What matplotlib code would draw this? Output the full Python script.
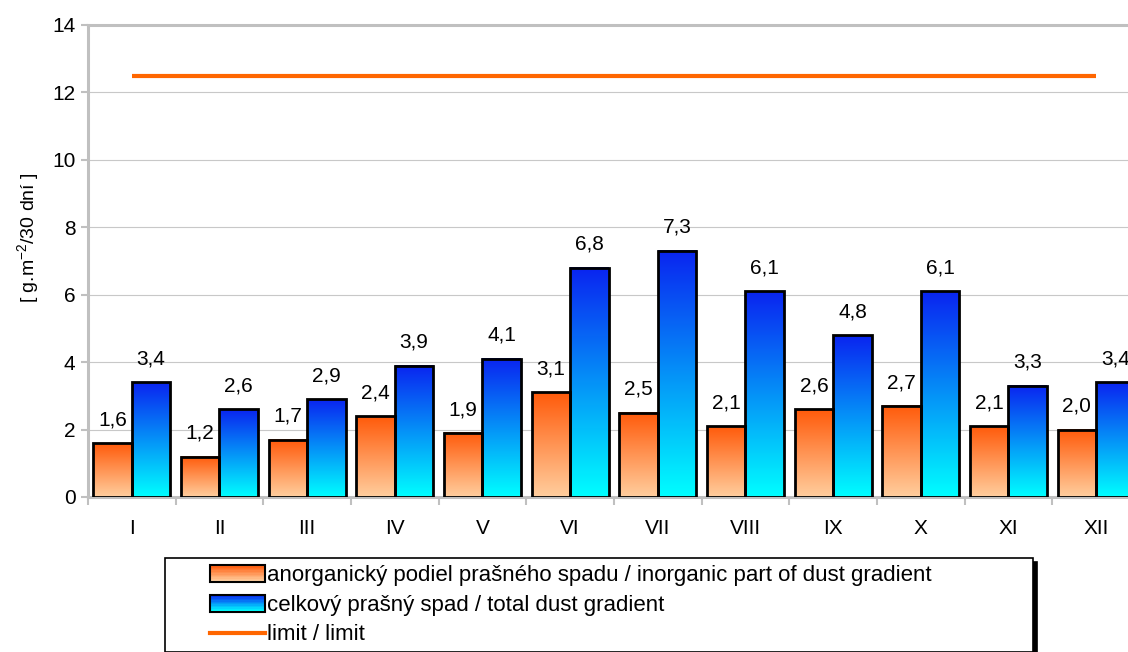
import numpy as np
import matplotlib
matplotlib.use("Agg")
from matplotlib import pyplot as plt
from matplotlib.colors import LinearSegmentedColormap
from matplotlib.patches import Rectangle
from matplotlib.lines import Line2D
from matplotlib.legend_handler import HandlerBase

plt.rcParams['font.family'] = ['Liberation Sans', 'DejaVu Sans']
plt.rcParams['mathtext.default'] = 'regular'

months = ['I', 'II', 'III', 'IV', 'V', 'VI', 'VII', 'VIII', 'IX', 'X', 'XI', 'XII']
inorganic = [1.6, 1.2, 1.7, 2.4, 1.9, 3.1, 2.5, 2.1, 2.6, 2.7, 2.1, 2.0]
total = [3.4, 2.6, 2.9, 3.9, 4.1, 6.8, 7.3, 6.1, 4.8, 6.1, 3.3, 3.4]
limit = [12.5] * len(months)

lab_inorg = 'anorganický podiel prašného spadu / inorganic part of dust gradient'
lab_total = 'celkový prašný spad / total dust gradient'
lab_limit = 'limit / limit'

# top -> bottom colours
cm_orange = LinearSegmentedColormap.from_list('o', ['#FF5A0A', '#FFCE9E'])
cm_blue = LinearSegmentedColormap.from_list('b', ['#0A24F0', '#00FFFF'])
grad = np.linspace(0, 1, 256).reshape(-1, 1)

fig = plt.figure(figsize=(11.28, 6.52), dpi=100)
ax = fig.add_axes([88/1128, 155/652, 1052/1128, 472/652])

x = np.arange(len(months))
w = 0.44
b1 = ax.bar(x - w/2, inorganic, w, facecolor='none', edgecolor='black', lw=2, zorder=4)
b2 = ax.bar(x + w/2, total, w, facecolor='none', edgecolor='black', lw=2, zorder=4)

for bars, cm in ((b1, cm_orange), (b2, cm_blue)):
    for r in bars:
        x0, h = r.get_x(), r.get_height()
        ax.imshow(grad, cmap=cm, aspect='auto', zorder=3, interpolation='bilinear',
                  extent=(x0, x0 + r.get_width(), 0, h))

for bars, vals in ((b1, inorganic), (b2, total)):
    for r, v in zip(bars, vals):
        ax.annotate(f'{v:.1f}'.replace('.', ','), (r.get_x() + r.get_width()/2, v),
                    xytext=(0, 10), textcoords='offset points', ha='center', va='bottom', fontsize=15)

ax.plot(x, limit, color='#FF6600', lw=3, zorder=5, solid_capstyle='butt')

ax.set_xlim(-0.5, len(months) - 0.5)
ax.set_ylim(0, 14)
ax.set_yticks(np.arange(0, 15, 2))
ax.set_xticks(x)
ax.set_xticklabels(months)
ax.set_xticks(np.arange(-0.5, len(months)), minor=True)
ax.tick_params(axis='x', which='major', length=0, pad=16, labelsize=15)
ax.tick_params(axis='x', which='minor', length=6, width=1.5, color='#C0C0C0')
ax.tick_params(axis='y', length=5, width=1.5, color='#C0C0C0', labelsize=15, pad=4)
ax.grid(axis='y', color='#C8C8C8', lw=0.8, zorder=0)
ax.set_axisbelow(True)
for s in ('left', 'bottom', 'top'):
    ax.spines[s].set_color('#C0C0C0')
    ax.spines[s].set_linewidth(2.2)
ax.spines['right'].set_visible(False)
ax.set_ylabel('[ g.m$^{-2}$/30 dní ]', fontsize=14)
ax.yaxis.set_label_coords(-0.045, 0.55)


class HandlerGrad(HandlerBase):
    def __init__(self, cm=None, line=False):
        super().__init__()
        self.cm = cm
        self.line = line

    def create_artists(self, legend, orig_handle, xdescent, ydescent, width, height, fontsize, trans):
        x0 = -xdescent + width * 0.41
        ww = width * 0.59
        if self.line:
            return [Line2D([x0, x0 + ww], [height/2 - ydescent] * 2, color='#FF6600', lw=3, transform=trans)]
        arts = []
        n = 12
        y0 = -ydescent - 1
        hh = height + 1
        for k in range(n):
            arts.append(Rectangle((x0, y0 + hh * (n - 1 - k) / n), ww, hh / n + 0.3,
                                  facecolor=self.cm(k / (n - 1)), edgecolor='none', transform=trans))
        arts.append(Rectangle((x0, y0), ww, hh, facecolor='none', edgecolor='black', lw=1.5, transform=trans))
        return arts


h1, h2, h3 = object(), object(), object()
leg = fig.legend([h1, h2, h3], [lab_inorg, lab_total, lab_limit],
                 handler_map={h1: HandlerGrad(cm_orange), h2: HandlerGrad(cm_blue), h3: HandlerGrad(line=True)},
                 loc='upper left', bbox_to_anchor=(165/1128, 0, 868/1128, 94/652), mode='expand',
                 borderaxespad=0, fontsize=16, handlelength=4.2, handletextpad=0.1, labelspacing=0.4,
                 borderpad=0.3, fancybox=False, framealpha=1, edgecolor='black',
                 shadow={'color': 'black', 'alpha': 1, 'ox': 3, 'oy': -3})
leg.get_frame().set_linewidth(1.2)

fig.savefig('out.png', dpi=100)
